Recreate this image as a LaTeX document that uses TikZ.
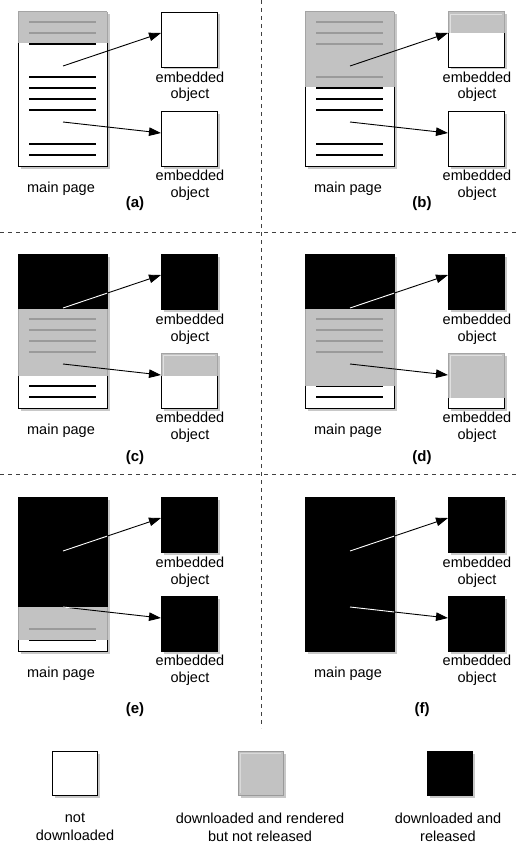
\documentclass[tikz,border=0pt]{standalone}
\usepackage{fontspec}
\setmainfont{Liberation Sans}
\usetikzlibrary{arrows.meta}
\definecolor{grayfill}{HTML}{C2C2C2}
\definecolor{grayln}{HTML}{9A9A9A}
\definecolor{grayedge}{HTML}{A4A4A4}
\definecolor{shadowc}{HTML}{C8C8C8}
\tikzset{
  shadowfill/.style={fill=shadowc},
  pagebox/.style={draw=black,line width=0.9pt,fill=white,minimum width=89pt,minimum height=154pt,inner sep=0pt,outer sep=0pt},
  objbox/.style={draw=black,line width=0.9pt,fill=white,minimum width=56pt,minimum height=55pt,inner sep=0pt,outer sep=0pt},
  keybox/.style={draw=black,line width=0.9pt,fill=white,minimum width=45pt,minimum height=44pt,inner sep=0pt,outer sep=0pt},
  textline/.style={line width=2pt,black},
  grayline/.style={line width=2pt,grayln},
  grayedgeline/.style={line width=1pt,grayedge},
  conn/.style={line width=0.9pt,black,-{Triangle[length=12pt,width=8.5pt]}},
  whiteconn/.style={line width=0.9pt,white},
  lbl/.style={font=\fontsize{14.5}{16.5}\selectfont,align=center,inner sep=0pt},
  keylbl/.style={font=\fontsize{14.5}{18}\selectfont,align=center,inner sep=0pt},
  captxt/.style={font=\fontsize{15}{16.5}\selectfont\bfseries,inner sep=0pt},
  divider/.style={dash pattern=on 4pt off 4pt,line width=1pt,black!75},
}
% base panel: page with text lines, two embedded objects, labels
\newcommand\basepanel[1]{%
  \fill[shadowfill] (20.5,14.5) rectangle (109.5,168.5);
  \node[pagebox] (#1-page) at (62.5,89) {};
  \foreach \yy in {22,33,44,77,88,99,110,144,155} \draw[textline] (29,\yy) -- (96,\yy);
  \fill[shadowfill] (163.5,14.5) rectangle (219.5,69.5);
  \node[objbox] (#1-o1) at (189,39.5) {};
  \fill[shadowfill] (163.5,113.5) rectangle (219.5,168.5);
  \node[objbox] (#1-o2) at (189,138.5) {};
  \node[lbl] (#1-l1) at (190,87) {embedded\\object};
  \node[lbl] (#1-l2) at (190,185) {embedded\\object};
  \node[lbl] (#1-lp) at (61,189) {main page};
  \coordinate (#1-s1) at (63,66);
  \coordinate (#1-s2) at (63,122);
  \coordinate (#1-t1) at (161,33);
  \coordinate (#1-t2) at (161,133);
}
% gray band on the page, from y=#1 to y=#2
\newcommand\grayband[2]{%
  \fill[grayfill] (17.5,#1) rectangle (107.5,#2);
  \draw[grayedgeline] (18,#1) -- (18,#2) (107,#1) -- (107,#2);
}
\newcommand\blackband[2]{%
  \fill[black] (17.5,#1) rectangle (107.5,#2);
}
% gray top part of an object
\newcommand\grayobj[2]{%
  \fill[grayfill] ([xshift=-0.5pt,yshift=0.5pt]#1.north west) rectangle ([xshift=0.5pt]#1.east |- 0,#2);
  \draw[grayedgeline] (#1.west |- 0,#2) -- (#1.north west) -- (#1.north east) -- (#1.east |- 0,#2);
  \draw[line width=0.8pt,white!88!black] ([xshift=2pt]#1.west |- 0,#2) -- ([xshift=2pt,yshift=-2pt]#1.north west) -- ([xshift=-2pt,yshift=-2pt]#1.north east);
}
\newcommand\blackobj[1]{%
  \fill[black] ([xshift=-0.5pt,yshift=0.5pt]#1.north west) rectangle ([xshift=0.5pt,yshift=-0.5pt]#1.south east);
}
\newcommand\panelarrows[1]{%
  \draw[conn] (#1-s1) -- (#1-t1);
  \draw[conn] (#1-s2) -- (#1-t2);
}
\newcommand\whiteover[3]{%
  \begin{scope}
    \clip (18,#2) rectangle (107,#3);
    \draw[whiteconn] (#1-s1) -- (#1-t1);
    \draw[whiteconn] (#1-s2) -- (#1-t2);
  \end{scope}
}
\begin{document}
\begin{tikzpicture}[x=1pt,y=-1pt]
\useasboundingbox (0,0) rectangle (518,843);
\fill[white] (0,0) rectangle (518,843);

% dividers
\coordinate (h1l) at (0,232); \coordinate (h1r) at (518,232);
\coordinate (h2l) at (0,474); \coordinate (h2r) at (518,474);
\coordinate (vt) at (261,0); \coordinate (vb) at (261,728);
\draw[divider] (h1l) -- (h1r);
\draw[divider] (h2l) -- (h2r);
\draw[divider] (vt) -- (vb);

% (a)
\begin{scope}[shift={(0,0)}]
  \basepanel{a}
  \grayband{12}{43}
  \draw[grayedgeline] (18,12) -- (107,12);
  \foreach \yy in {22,33} \draw[grayline] (29,\yy) -- (96,\yy);
  \panelarrows{a}
\end{scope}
\node[captxt] (capa) at (135,204) {(a)};

% (b)
\begin{scope}[shift={(287,0)}]
  \basepanel{b}
  \grayband{12}{87}
  \draw[grayedgeline] (18,12) -- (107,12);
  \foreach \yy in {22,33,44,77} \draw[grayline] (29,\yy) -- (96,\yy);
  \grayobj{b-o1}{33}
  \panelarrows{b}
\end{scope}
\node[captxt] (capb) at (422,204) {(b)};

% (c)
\begin{scope}[shift={(0,242)}]
  \basepanel{c}
  \blackband{12}{67}
  \grayband{67}{134}
  \foreach \yy in {77,88,99,110} \draw[grayline] (29,\yy) -- (96,\yy);
  \blackobj{c-o1}
  \grayobj{c-o2}{134}
  \panelarrows{c}
  \whiteover{c}{12}{67}
\end{scope}
\node[captxt] (capc) at (135,458) {(c)};

% (d)
\begin{scope}[shift={(287,242)}]
  \basepanel{d}
  \blackband{12}{67}
  \grayband{67}{143.5}
  \foreach \yy in {77,88,99,110} \draw[grayline] (29,\yy) -- (96,\yy);
  \blackobj{d-o1}
  \grayobj{d-o2}{156}
  \panelarrows{d}
  \whiteover{d}{12}{67}
\end{scope}
\node[captxt] (capd) at (422,458) {(d)};

% (e)
\begin{scope}[shift={(0,485)}]
  \basepanel{e}
  \blackband{12}{122}
  \grayband{122}{155}
  \draw[grayline] (29,144) -- (96,144);
  \blackobj{e-o1}
  \blackobj{e-o2}
  \panelarrows{e}
  \whiteover{e}{12}{122}
\end{scope}
\node[captxt] (cape) at (135,710) {(e)};

% (f)
\begin{scope}[shift={(287,485)}]
  \basepanel{f}
  \blackband{12}{166}
  \blackobj{f-o1}
  \blackobj{f-o2}
  \panelarrows{f}
  \whiteover{f}{12}{166}
\end{scope}
\node[captxt] (capf) at (422,710) {(f)};

% legend
\fill[shadowfill] (54.5,753.5) rectangle (99.5,797.5);
\node[keybox] (k1) at (74.5,773) {};
\fill[shadowfill] (240.5,753.5) rectangle (285.5,797.5);
\node[keybox,fill=grayfill,draw=grayln] (k2) at (260.5,773) {};
\draw[line width=1pt,white!85!black] ([xshift=2pt,yshift=2pt]k2.south west) -- ([xshift=2pt,yshift=-2pt]k2.north west) -- ([xshift=-2pt,yshift=-2pt]k2.north east);
\fill[shadowfill] (429.5,753.5) rectangle (474.5,797.5);
\node[keybox,fill=black] (k3) at (449.5,773) {};
\node[keylbl] (k1l) at (75,827) {not\\downloaded};
\node[keylbl] (k2l) at (260,827) {downloaded and rendered\\but not released};
\node[keylbl] (k3l) at (448,827) {downloaded and\\released};
\end{tikzpicture}
\end{document}
